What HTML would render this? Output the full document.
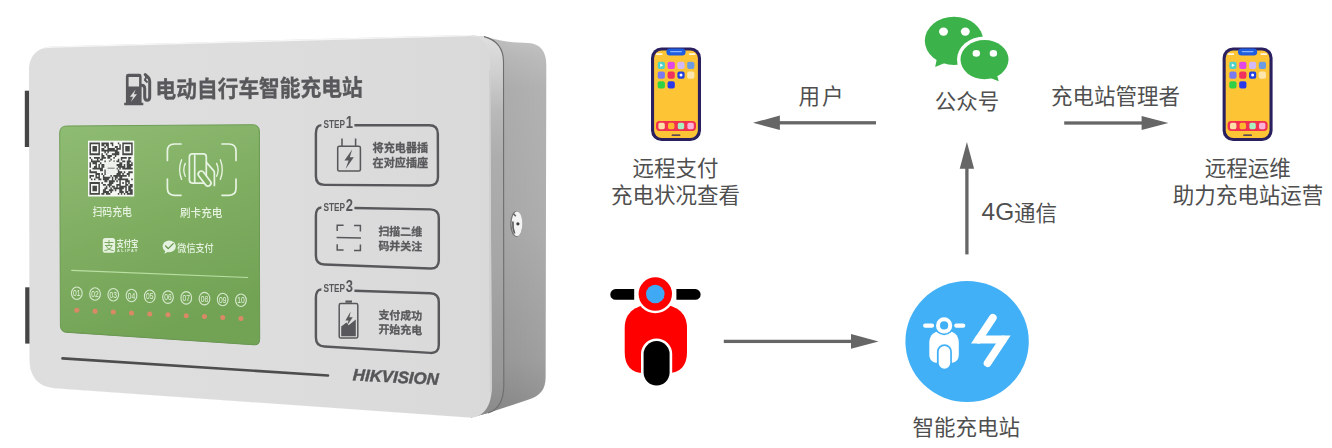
<!DOCTYPE html>
<html lang="zh-CN">
<head>
<meta charset="utf-8">
<title>电动自行车智能充电站</title>
<style>
html,body{margin:0;padding:0;background:#fff}
body{width:1332px;height:448px;overflow:hidden;font-family:"Liberation Sans","Noto Sans CJK SC",sans-serif}
svg{display:block;position:absolute;left:0;top:0}
text{font-family:"Liberation Sans","Noto Sans CJK SC",sans-serif}
.sr{position:absolute;left:0;top:0;width:1332px;height:448px;overflow:hidden;opacity:0;font-size:10px;pointer-events:none}
</style>
</head>
<body>
<svg width="1332" height="448" viewBox="0 0 1332 448">
<defs>
<linearGradient id="faceG" x1="0" y1="0" x2="1" y2="0">
<stop offset="0" stop-color="#dedede"/><stop offset="0.5" stop-color="#dddddd"/><stop offset="1" stop-color="#d9d9d9"/>
</linearGradient>
<linearGradient id="bevelG" x1="0" y1="0" x2="0" y2="1">
<stop offset="0" stop-color="#e0e0e0"/><stop offset="0.1" stop-color="#cfcfcf"/><stop offset="0.2" stop-color="#b9b9b9"/><stop offset="0.32" stop-color="#adadad"/><stop offset="0.6" stop-color="#a6a6a6"/><stop offset="0.9" stop-color="#979797"/><stop offset="1" stop-color="#888888"/>
</linearGradient>
<linearGradient id="sideG" x1="0" y1="0" x2="0" y2="1">
<stop offset="0" stop-color="#c0c0c0"/><stop offset="0.06" stop-color="#b4b4b4"/><stop offset="0.14" stop-color="#aaaaaa"/><stop offset="0.5" stop-color="#a5a5a5"/><stop offset="0.85" stop-color="#959595"/><stop offset="1" stop-color="#828282"/>
</linearGradient>
<linearGradient id="sideH" x1="0" y1="0" x2="1" y2="0">
<stop offset="0" stop-color="#000" stop-opacity="0.06"/><stop offset="0.6" stop-color="#fff" stop-opacity="0.04"/><stop offset="1" stop-color="#fff" stop-opacity="0.10"/>
</linearGradient>
<linearGradient id="greenG" x1="0" y1="0" x2="0.35" y2="1">
<stop offset="0" stop-color="#8fbc73"/><stop offset="0.5" stop-color="#80ae62"/><stop offset="1" stop-color="#72a355"/>
</linearGradient>
<linearGradient id="lockG" x1="0" y1="0" x2="1" y2="1">
<stop offset="0" stop-color="#ffffff"/><stop offset="0.5" stop-color="#e4e4e4"/><stop offset="1" stop-color="#8a8a8a"/>
</linearGradient>
<filter id="soft" x="-5%" y="-5%" width="110%" height="110%"><feGaussianBlur stdDeviation="0.45"/></filter>
<filter id="soft2" x="-5%" y="-5%" width="110%" height="110%"><feGaussianBlur stdDeviation="0.7"/></filter>
<filter id="soft3" x="-20%" y="-20%" width="140%" height="140%"><feGaussianBlur stdDeviation="1.2"/></filter>
<clipPath id="faceClip"><path d="M29,70 C29,55.5 38,46.8 53,46.4 L465,34.9 C482,34.4 490,44 490.1,64 L491.8,386 C492,405 484,418.4 469,417.5 L55,388.2 C38.5,387 29.6,377 29.5,359 Z"/></clipPath>
</defs>
<g id="product">
<rect x="24.8" y="90.7" width="5" height="56.3" fill="#454545"/>
<rect x="25.2" y="287.3" width="5" height="56.3" fill="#454545"/>
<g filter="url(#soft2)">
<path d="M484,36.6 C495,39.5 505,41.8 513,42.3 L528,43 C540,43.6 546.3,51 546.3,65 L545.6,377 C545.6,390 540,396 528,399.8 L488,413 L471,417.6 L466,34.9 Z" fill="url(#sideG)"/>
<path d="M484,36.6 C495,39.5 505,41.8 513,42.3 L528,43 C540,43.6 546.3,51 546.3,65 L545.6,377 C545.6,390 540,396 528,399.8 L488,413 L471,417.6 L466,34.9 Z" fill="url(#sideH)"/>
<path d="M466,34.9 L484,36.6 C497,40 503.5,48 503.5,62 L503.8,385 C503.8,400 499,409.5 488,413 L471,417.6 Z" fill="url(#bevelG)"/>
</g>
<path d="M484,36.6 C497,40 503.5,48 503.5,62 L503.8,385 C503.8,400 499,409.5 488,413" fill="none" stroke="#6e6e6e" stroke-width="1.1" filter="url(#soft)"/>
<path d="M29,70 C29,55.5 38,46.8 53,46.4 L465,34.9 C482,34.4 490,44 490.1,64 L491.8,386 C492,405 484,418.4 469,417.5 L55,388.2 C38.5,387 29.6,377 29.5,359 Z" fill="url(#faceG)"/>
<g clip-path="url(#faceClip)">
<path d="M20,72 C20,50 30,45 53,44.4 L466,32.9 C486,32 496,40 496,58" fill="none" stroke="#f6f6f6" stroke-width="6.5" filter="url(#soft2)"/>
<path d="M492,120 L494,392 C494,410 486,420 471,419.4 L55,390 C40,389 31,384 29,368" fill="none" stroke="#adadad" stroke-width="2.4" filter="url(#soft2)"/>
<path d="M489.5,70 L491.8,392" fill="none" stroke="#cfcfcf" stroke-width="4" filter="url(#soft2)"/>
</g>
<g filter="url(#soft)"><ellipse cx="516.3" cy="224" rx="6.1" ry="12.9" fill="#747474"/><ellipse cx="517" cy="223.8" rx="5.4" ry="12.3" fill="#f3f3f3"/><path d="M512.9,221.5 Q512.4,228 514.6,233.5" stroke="#5c5c5c" stroke-width="1.7" fill="none"/><path d="M513.4,213.6 L515.8,216.2" stroke="#666" stroke-width="1.6" fill="none"/><circle cx="517.9" cy="223.8" r="1.6" fill="#3c3c3c"/></g>
<path d="M62.5,358.4 L328,375.5" stroke="#4e4e4e" stroke-width="2.6" stroke-linecap="round" filter="url(#soft)"/>
<g filter="url(#soft)" fill="#58595b">
<path fill-rule="evenodd" d="M128.4,73.8 H139.2 Q141.6,73.8 141.6,76.2 V102.7 H143.3 V105.3 H124.2 V102.7 H125.9 V76.2 Q125.9,73.8 128.4,73.8 Z M128.6,76.9 V86.6 H139.1 V76.9 Z M135.6,89.6 L129.9,96.8 H133 L131,101.8 L137,94.2 H133.9 Z"/>
<path d="M141.6,85.2 Q144.7,85.2 144.7,88.4 V97 Q144.7,100.3 147.2,100.3 Q149.7,100.3 149.7,97 V81 Q149.7,78.8 148.2,77.4 L145.2,74.6" fill="none" stroke="#58595b" stroke-width="3" stroke-linecap="round" stroke-linejoin="round"/>
<path d="M146.6,76.4 L144.9,80 L147.6,82.4" fill="none" stroke="#58595b" stroke-width="2" stroke-linejoin="round"/>
<text transform="translate(155.57,97.95) rotate(-0.63) scale(1,1.12)" font-size="20.8" font-weight="bold" fill="#58595b" stroke="#58595b" stroke-width="0.3" textLength="207.2" lengthAdjust="spacing">电动自行车智能充电站</text>
</g>
<g filter="url(#soft)">
<path d="M59.7,133 Q59.7,126 66.7,126 L252.5,124.7 Q259.3,124.6 259.3,131.5 L259.6,338.4 Q259.6,344.8 253.2,344.4 L66,331.9 Q60.5,331.5 60.4,326 Z" fill="#5b8a43" transform="translate(0.5,0.8)"/>
<path d="M59.7,133 Q59.7,126 66.7,126 L252.5,124.7 Q259.3,124.6 259.3,131.5 L259.6,338.4 Q259.6,344.8 253.2,344.4 L66,331.9 Q60.5,331.5 60.4,326 Z" fill="url(#greenG)" stroke="#6f9d56" stroke-width="1"/>
</g>
<g filter="url(#soft2)"><rect x="88.0" y="140.7" width="46.2" height="55.8" fill="#f6f8f4"/>
<path d="M89.49,142.50h10.43v1.85h-10.43zM101.41,142.50h7.45v1.85h-7.45zM110.35,142.50h2.98v1.85h-2.98zM117.81,142.50h1.49v1.85h-1.49zM122.28,142.50h10.43v1.85h-10.43zM89.49,144.30h1.49v1.85h-1.49zM98.43,144.30h1.49v1.85h-1.49zM101.41,144.30h2.98v1.85h-2.98zM105.88,144.30h2.98v1.85h-2.98zM111.85,144.30h1.49v1.85h-1.49zM119.30,144.30h1.49v1.85h-1.49zM122.28,144.30h1.49v1.85h-1.49zM131.22,144.30h1.49v1.85h-1.49zM89.49,146.10h1.49v1.85h-1.49zM92.47,146.10h4.47v1.85h-4.47zM98.43,146.10h1.49v1.85h-1.49zM104.39,146.10h1.49v1.85h-1.49zM107.37,146.10h1.49v1.85h-1.49zM114.83,146.10h2.98v1.85h-2.98zM119.30,146.10h1.49v1.85h-1.49zM122.28,146.10h1.49v1.85h-1.49zM125.26,146.10h4.47v1.85h-4.47zM131.22,146.10h1.49v1.85h-1.49zM89.49,147.90h1.49v1.85h-1.49zM92.47,147.90h4.47v1.85h-4.47zM98.43,147.90h1.49v1.85h-1.49zM101.41,147.90h2.98v1.85h-2.98zM107.37,147.90h7.45v1.85h-7.45zM116.32,147.90h4.47v1.85h-4.47zM122.28,147.90h1.49v1.85h-1.49zM125.26,147.90h4.47v1.85h-4.47zM131.22,147.90h1.49v1.85h-1.49zM89.49,149.70h1.49v1.85h-1.49zM92.47,149.70h4.47v1.85h-4.47zM98.43,149.70h1.49v1.85h-1.49zM101.41,149.70h16.39v1.85h-16.39zM122.28,149.70h1.49v1.85h-1.49zM125.26,149.70h4.47v1.85h-4.47zM131.22,149.70h1.49v1.85h-1.49zM89.49,151.50h1.49v1.85h-1.49zM98.43,151.50h1.49v1.85h-1.49zM104.39,151.50h1.49v1.85h-1.49zM107.37,151.50h1.49v1.85h-1.49zM114.83,151.50h4.47v1.85h-4.47zM122.28,151.50h1.49v1.85h-1.49zM131.22,151.50h1.49v1.85h-1.49zM89.49,153.30h10.43v1.85h-10.43zM101.41,153.30h1.49v1.85h-1.49zM105.88,153.30h1.49v1.85h-1.49zM111.85,153.30h7.45v1.85h-7.45zM122.28,153.30h10.43v1.85h-10.43zM101.41,155.10h2.98v1.85h-2.98zM107.37,155.10h4.47v1.85h-4.47zM114.83,155.10h1.49v1.85h-1.49zM89.49,156.90h1.49v1.85h-1.49zM93.96,156.90h5.96v1.85h-5.96zM101.41,156.90h4.47v1.85h-4.47zM107.37,156.90h2.98v1.85h-2.98zM113.34,156.90h1.49v1.85h-1.49zM120.79,156.90h5.96v1.85h-5.96zM128.24,156.90h2.98v1.85h-2.98zM90.98,158.70h1.49v1.85h-1.49zM96.94,158.70h1.49v1.85h-1.49zM99.92,158.70h2.98v1.85h-2.98zM110.35,158.70h1.49v1.85h-1.49zM117.81,158.70h1.49v1.85h-1.49zM120.79,158.70h1.49v1.85h-1.49zM128.24,158.70h1.49v1.85h-1.49zM90.98,160.50h8.94v1.85h-8.94zM104.39,160.50h1.49v1.85h-1.49zM108.86,160.50h1.49v1.85h-1.49zM113.34,160.50h1.49v1.85h-1.49zM116.32,160.50h2.98v1.85h-2.98zM122.28,160.50h2.98v1.85h-2.98zM126.75,160.50h4.47v1.85h-4.47zM89.49,162.30h1.49v1.85h-1.49zM92.47,162.30h4.47v1.85h-4.47zM99.92,162.30h1.49v1.85h-1.49zM119.30,162.30h2.98v1.85h-2.98zM126.75,162.30h2.98v1.85h-2.98zM131.22,162.30h1.49v1.85h-1.49zM89.49,164.10h1.49v1.85h-1.49zM95.45,164.10h1.49v1.85h-1.49zM98.43,164.10h1.49v1.85h-1.49zM101.41,164.10h2.98v1.85h-2.98zM116.32,164.10h5.96v1.85h-5.96zM123.77,164.10h1.49v1.85h-1.49zM126.75,164.10h5.96v1.85h-5.96zM89.49,165.90h1.49v1.85h-1.49zM93.96,165.90h2.98v1.85h-2.98zM98.43,165.90h1.49v1.85h-1.49zM101.41,165.90h2.98v1.85h-2.98zM117.81,165.90h7.45v1.85h-7.45zM126.75,165.90h4.47v1.85h-4.47zM92.47,167.70h10.43v1.85h-10.43zM116.32,167.70h1.49v1.85h-1.49zM119.30,167.70h1.49v1.85h-1.49zM122.28,167.70h10.43v1.85h-10.43zM89.49,169.50h1.49v1.85h-1.49zM99.92,169.50h2.98v1.85h-2.98zM104.39,169.50h1.49v1.85h-1.49zM117.81,169.50h1.49v1.85h-1.49zM89.49,171.30h7.45v1.85h-7.45zM104.39,171.30h1.49v1.85h-1.49zM117.81,171.30h4.47v1.85h-4.47zM123.77,171.30h1.49v1.85h-1.49zM128.24,171.30h4.47v1.85h-4.47zM95.45,173.10h4.47v1.85h-4.47zM101.41,173.10h1.49v1.85h-1.49zM104.39,173.10h1.49v1.85h-1.49zM116.32,173.10h4.47v1.85h-4.47zM122.28,173.10h1.49v1.85h-1.49zM126.75,173.10h2.98v1.85h-2.98zM89.49,174.90h4.47v1.85h-4.47zM95.45,174.90h1.49v1.85h-1.49zM98.43,174.90h1.49v1.85h-1.49zM102.90,174.90h1.49v1.85h-1.49zM110.35,174.90h1.49v1.85h-1.49zM113.34,174.90h13.41v1.85h-13.41zM128.24,174.90h1.49v1.85h-1.49zM89.49,176.70h1.49v1.85h-1.49zM95.45,176.70h4.47v1.85h-4.47zM102.90,176.70h7.45v1.85h-7.45zM111.85,176.70h1.49v1.85h-1.49zM114.83,176.70h2.98v1.85h-2.98zM119.30,176.70h2.98v1.85h-2.98zM90.98,178.50h1.49v1.85h-1.49zM93.96,178.50h1.49v1.85h-1.49zM98.43,178.50h2.98v1.85h-2.98zM102.90,178.50h5.96v1.85h-5.96zM111.85,178.50h1.49v1.85h-1.49zM114.83,178.50h1.49v1.85h-1.49zM117.81,178.50h10.43v1.85h-10.43zM131.22,178.50h1.49v1.85h-1.49zM104.39,180.30h2.98v1.85h-2.98zM108.86,180.30h5.96v1.85h-5.96zM116.32,180.30h1.49v1.85h-1.49zM119.30,180.30h1.49v1.85h-1.49zM125.26,180.30h4.47v1.85h-4.47zM89.49,182.10h10.43v1.85h-10.43zM101.41,182.10h1.49v1.85h-1.49zM108.86,182.10h4.47v1.85h-4.47zM119.30,182.10h1.49v1.85h-1.49zM122.28,182.10h1.49v1.85h-1.49zM125.26,182.10h1.49v1.85h-1.49zM128.24,182.10h1.49v1.85h-1.49zM89.49,183.90h1.49v1.85h-1.49zM98.43,183.90h1.49v1.85h-1.49zM102.90,183.90h2.98v1.85h-2.98zM107.37,183.90h4.47v1.85h-4.47zM116.32,183.90h4.47v1.85h-4.47zM125.26,183.90h2.98v1.85h-2.98zM129.73,183.90h2.98v1.85h-2.98zM89.49,185.70h1.49v1.85h-1.49zM92.47,185.70h4.47v1.85h-4.47zM98.43,185.70h1.49v1.85h-1.49zM105.88,185.70h1.49v1.85h-1.49zM108.86,185.70h1.49v1.85h-1.49zM111.85,185.70h2.98v1.85h-2.98zM116.32,185.70h1.49v1.85h-1.49zM119.30,185.70h7.45v1.85h-7.45zM128.24,185.70h4.47v1.85h-4.47zM89.49,187.50h1.49v1.85h-1.49zM92.47,187.50h4.47v1.85h-4.47zM98.43,187.50h1.49v1.85h-1.49zM104.39,187.50h2.98v1.85h-2.98zM110.35,187.50h1.49v1.85h-1.49zM113.34,187.50h10.43v1.85h-10.43zM125.26,187.50h1.49v1.85h-1.49zM128.24,187.50h2.98v1.85h-2.98zM89.49,189.30h1.49v1.85h-1.49zM92.47,189.30h4.47v1.85h-4.47zM98.43,189.30h1.49v1.85h-1.49zM102.90,189.30h2.98v1.85h-2.98zM108.86,189.30h4.47v1.85h-4.47zM114.83,189.30h1.49v1.85h-1.49zM119.30,189.30h2.98v1.85h-2.98zM125.26,189.30h1.49v1.85h-1.49zM128.24,189.30h4.47v1.85h-4.47zM89.49,191.10h1.49v1.85h-1.49zM98.43,191.10h1.49v1.85h-1.49zM102.90,191.10h5.96v1.85h-5.96zM110.35,191.10h1.49v1.85h-1.49zM119.30,191.10h4.47v1.85h-4.47zM125.26,191.10h2.98v1.85h-2.98zM129.73,191.10h2.98v1.85h-2.98zM89.49,192.90h10.43v1.85h-10.43zM101.41,192.90h2.98v1.85h-2.98zM105.88,192.90h4.47v1.85h-4.47zM117.81,192.90h1.49v1.85h-1.49zM120.79,192.90h1.49v1.85h-1.49zM123.77,192.90h1.49v1.85h-1.49zM126.75,192.90h5.96v1.85h-5.96z" fill="#444744"/>
<rect x="105.8" y="161.6" width="10.6" height="12.8" fill="#eef1ec"/><path d="M107.6,168.2 H114.6" stroke="#6a6d6a" stroke-width="0.9"/></g>
<g filter="url(#soft)">
<text transform="translate(92.40,216.20) scale(1,1.12)" font-size="9.9" font-weight="500" fill="#e6f2e0" textLength="39.6" lengthAdjust="spacing">扫码充电</text>
<text transform="translate(180.00,217.40) scale(1,1.06)" font-size="10.6" font-weight="500" fill="#e6f2e0" textLength="42.4" lengthAdjust="spacing">刷卡充电</text>
<g fill="none" stroke="#e8f4e3" stroke-width="1.7" stroke-linecap="round" stroke-linejoin="round">
<path d="M181,144 H174.4 Q167.4,144 167.4,151 V160.5 M222,144 H229 Q236,144 236,151 V160.5 M181,195.3 H174.4 Q167.4,195.3 167.4,188.3 V179 M222,195.3 H229 Q236,195.3 236,188.3 V179"/>
<rect x="189.4" y="153.9" width="16.9" height="29.2" rx="3"/>
<path d="M194.7,155 V182"/>
<path d="M206.4,162.4 L213.6,170.6 Q214.4,171.6 214.4,173 V185.4"/>
<rect x="-3" y="-8.6" width="6" height="17.2" rx="3" transform="translate(204.6,178.6) rotate(-37)" fill="#82b064"/>
<path d="M185.3,163.4 Q182.3,169.8 185.3,176.3 M181.6,159.8 Q177.7,169.6 181.6,179.4 M216.6,163.4 Q219.6,169.8 216.6,176.3 M220.3,159.8 Q224.2,169.6 220.3,179.4" stroke-width="1.35"/>
</g>
<rect x="102.8" y="238" width="12.3" height="14.8" rx="2.6" fill="#e6f2e0"/>
<text transform="translate(103.70,249.90) scale(1,1.12)" font-size="10.6" fill="#79a85c">支</text>
<text transform="translate(116.60,246.80) scale(1,1.18)" font-size="7.3" font-weight="bold" fill="#e6f2e0" textLength="21.6" lengthAdjust="spacing">支付宝</text>
<text x="117" y="252.3" font-size="3.9" font-weight="bold" fill="#e6f2e0" textLength="20.4" lengthAdjust="spacing">ALIPAY</text>
<ellipse cx="169.2" cy="246.3" rx="6.6" ry="5.9" fill="#e6f2e0"/><path d="M165.6,250 L164.4,253.8 L168.6,251.6 Z" fill="#e6f2e0"/>
<path d="M165.6,246 L168.2,248.6 L173.2,243.6" fill="none" stroke="#5f9044" stroke-width="1.2" stroke-linecap="round" stroke-linejoin="round"/>
<text transform="translate(177.30,251.90) scale(1,1.1)" font-size="9.1" font-weight="500" fill="#e6f2e0" textLength="36.4" lengthAdjust="spacing">微信支付</text>
<path d="M71.7,270.4 L247.6,277.5" stroke="#b9dfa3" stroke-width="1.15" stroke-linecap="round"/>
<ellipse cx="76.80" cy="293.20" rx="5.35" ry="6.25" fill="none" stroke="#d6e9ce" stroke-width="1.1"/>
<text transform="translate(76.80,296.30) scale(1,1.18)" font-size="7.4" text-anchor="middle" fill="#e6f2e0" textLength="7.4" lengthAdjust="spacingAndGlyphs">01</text>
<ellipse cx="95.04" cy="293.98" rx="5.35" ry="6.25" fill="none" stroke="#d6e9ce" stroke-width="1.1"/>
<text transform="translate(95.04,297.08) scale(1,1.18)" font-size="7.4" text-anchor="middle" fill="#e6f2e0" textLength="7.4" lengthAdjust="spacingAndGlyphs">02</text>
<ellipse cx="113.28" cy="294.76" rx="5.35" ry="6.25" fill="none" stroke="#d6e9ce" stroke-width="1.1"/>
<text transform="translate(113.28,297.86) scale(1,1.18)" font-size="7.4" text-anchor="middle" fill="#e6f2e0" textLength="7.4" lengthAdjust="spacingAndGlyphs">03</text>
<ellipse cx="131.52" cy="295.54" rx="5.35" ry="6.25" fill="none" stroke="#d6e9ce" stroke-width="1.1"/>
<text transform="translate(131.52,298.64) scale(1,1.18)" font-size="7.4" text-anchor="middle" fill="#e6f2e0" textLength="7.4" lengthAdjust="spacingAndGlyphs">04</text>
<ellipse cx="149.76" cy="296.32" rx="5.35" ry="6.25" fill="none" stroke="#d6e9ce" stroke-width="1.1"/>
<text transform="translate(149.76,299.42) scale(1,1.18)" font-size="7.4" text-anchor="middle" fill="#e6f2e0" textLength="7.4" lengthAdjust="spacingAndGlyphs">05</text>
<ellipse cx="168.00" cy="297.10" rx="5.35" ry="6.25" fill="none" stroke="#d6e9ce" stroke-width="1.1"/>
<text transform="translate(168.00,300.20) scale(1,1.18)" font-size="7.4" text-anchor="middle" fill="#e6f2e0" textLength="7.4" lengthAdjust="spacingAndGlyphs">06</text>
<ellipse cx="186.24" cy="297.88" rx="5.35" ry="6.25" fill="none" stroke="#d6e9ce" stroke-width="1.1"/>
<text transform="translate(186.24,300.98) scale(1,1.18)" font-size="7.4" text-anchor="middle" fill="#e6f2e0" textLength="7.4" lengthAdjust="spacingAndGlyphs">07</text>
<ellipse cx="204.48" cy="298.66" rx="5.35" ry="6.25" fill="none" stroke="#d6e9ce" stroke-width="1.1"/>
<text transform="translate(204.48,301.76) scale(1,1.18)" font-size="7.4" text-anchor="middle" fill="#e6f2e0" textLength="7.4" lengthAdjust="spacingAndGlyphs">08</text>
<ellipse cx="222.72" cy="299.44" rx="5.35" ry="6.25" fill="none" stroke="#d6e9ce" stroke-width="1.1"/>
<text transform="translate(222.72,302.54) scale(1,1.18)" font-size="7.4" text-anchor="middle" fill="#e6f2e0" textLength="7.4" lengthAdjust="spacingAndGlyphs">09</text>
<ellipse cx="240.96" cy="300.22" rx="5.35" ry="6.25" fill="none" stroke="#d6e9ce" stroke-width="1.1"/>
<text transform="translate(240.96,303.32) scale(1,1.18)" font-size="7.4" text-anchor="middle" fill="#e6f2e0" textLength="7.4" lengthAdjust="spacingAndGlyphs">10</text>
</g>
<g filter="url(#soft2)">
<circle cx="76.80" cy="310.30" r="2.5" fill="#da8965"/>
<circle cx="95.04" cy="311.20" r="2.5" fill="#da8965"/>
<circle cx="113.28" cy="312.10" r="2.5" fill="#da8965"/>
<circle cx="131.52" cy="313.00" r="2.5" fill="#da8965"/>
<circle cx="149.76" cy="313.90" r="2.5" fill="#da8965"/>
<circle cx="168.00" cy="314.80" r="2.5" fill="#da8965"/>
<circle cx="186.24" cy="315.70" r="2.5" fill="#da8965"/>
<circle cx="204.48" cy="316.60" r="2.5" fill="#da8965"/>
<circle cx="222.72" cy="317.50" r="2.5" fill="#da8965"/>
<circle cx="240.96" cy="318.40" r="2.5" fill="#da8965"/>
</g>
<g filter="url(#soft)">
<path d="M354.40,125.16 L429.30,125.29 Q437.80,125.30 437.83,133.80 L437.97,177.10 Q438.00,185.60 429.50,185.54 L324.40,184.86 Q315.90,184.80 315.90,176.30 L315.90,133.60 Q315.90,125.10 321.40,125.11" fill="none" stroke="#58595b" stroke-width="2.45" stroke-linecap="butt"/>
<text transform="translate(323.5,128.40) scale(1,1.34)" font-size="8.3" font-weight="bold" fill="#58595b" textLength="21.6" lengthAdjust="spacingAndGlyphs">STEP</text>
<text transform="translate(345.7,128.30) scale(1,1.27)" font-size="13" font-weight="bold" fill="#58595b">1</text>
<path d="M354.40,208.06 L430.30,209.35 Q438.80,209.50 438.80,218.00 L438.80,260.30 Q438.80,268.80 430.31,268.48 L324.39,264.52 Q315.90,264.20 315.90,255.70 L315.90,215.90 Q315.90,207.40 321.40,207.49" fill="none" stroke="#58595b" stroke-width="2.45" stroke-linecap="butt"/>
<text transform="translate(323.5,210.90) scale(1,1.34)" font-size="8.3" font-weight="bold" fill="#58595b" textLength="21.6" lengthAdjust="spacingAndGlyphs">STEP</text>
<text transform="translate(345.7,210.80) scale(1,1.27)" font-size="13" font-weight="bold" fill="#58595b">2</text>
<path d="M354.40,290.72 L430.30,293.31 Q438.80,293.60 438.80,302.10 L438.80,344.90 Q438.80,353.40 430.32,352.89 L324.38,346.51 Q315.90,346.00 315.90,337.50 L315.90,297.90 Q315.90,289.40 321.40,289.59" fill="none" stroke="#58595b" stroke-width="2.45" stroke-linecap="butt"/>
<text transform="translate(323.5,291.80) scale(1,1.34)" font-size="8.3" font-weight="bold" fill="#58595b" textLength="21.6" lengthAdjust="spacingAndGlyphs">STEP</text>
<text transform="translate(345.7,291.70) scale(1,1.27)" font-size="13" font-weight="bold" fill="#58595b">3</text>
<g fill="none" stroke="#58595b" stroke-width="1.55" stroke-linejoin="round">
<rect x="337.7" y="146.3" width="22.7" height="24.7" rx="1.6"/><path d="M342,138.5 V146.3 M355.6,138.5 V146.3"/>
</g>
<path d="M352.2,149.6 L344.4,160.6 H348.6 L345.6,169 L353.8,157.2 H349.8 Z" fill="#58595b"/>
<path d="M337.2,231 V225.2 H343.6 M354,225.5 H360.4 V231.4 M337.2,244.2 V250 H343.6 M354,250.6 H360.4 V244.6 M336.6,237.4 L361,238" fill="none" stroke="#58595b" stroke-width="1.5"/>
<rect x="339.2" y="303.6" width="18.6" height="34.4" rx="1.6" fill="none" stroke="#58595b" stroke-width="1.5"/>
<rect x="345.4" y="300.5" width="6.6" height="2.2" fill="#58595b"/>
<path d="M341.2,336.2 V326.6 L346.4,322.6 L348.6,325.2 L355.8,319.6 V336.2 Z" fill="#58595b"/>
<path d="M350.6,311.4 L345.4,320.4 H348.6 L346.6,326.2 L352.8,317.2 H349.4 Z" fill="#58595b"/>
<text transform="translate(372.60,152.30) scale(1,1.03)" font-size="11.1" font-weight="bold" fill="#58595b" stroke="#58595b" stroke-width="0.27" textLength="55.5" lengthAdjust="spacing">将充电器插</text>
<text transform="translate(372.60,166.60) scale(1,1.03)" font-size="11.1" font-weight="bold" fill="#58595b" stroke="#58595b" stroke-width="0.27" textLength="55.5" lengthAdjust="spacing">在对应插座</text>
<g transform="translate(378.4,0) skewY(0.9) translate(-378.4,0)">
<text transform="translate(378.40,235.30) scale(1,1.03)" font-size="10.95" font-weight="bold" fill="#58595b" stroke="#58595b" stroke-width="0.26" textLength="43.8" lengthAdjust="spacing">扫描二维</text>
<text transform="translate(378.40,249.90) scale(1,1.03)" font-size="10.95" font-weight="bold" fill="#58595b" stroke="#58595b" stroke-width="0.26" textLength="43.8" lengthAdjust="spacing">码并关注</text>
</g>
<g transform="translate(378.4,0) skewY(1.5) translate(-378.4,0)">
<text transform="translate(378.40,318.90) scale(1,1.03)" font-size="10.95" font-weight="bold" fill="#58595b" stroke="#58595b" stroke-width="0.26" textLength="43.8" lengthAdjust="spacing">支付成功</text>
<text transform="translate(378.40,333.30) scale(1,1.03)" font-size="10.95" font-weight="bold" fill="#58595b" stroke="#58595b" stroke-width="0.26" textLength="43.8" lengthAdjust="spacing">开始充电</text>
</g>
<text transform="translate(352.6,380.2) rotate(3.2)" font-size="16.6" font-weight="bold" font-style="italic" fill="#555658" stroke="#555658" stroke-width="0.45" textLength="86" lengthAdjust="spacingAndGlyphs">HIKVISION</text>
</g>
</g>
<g id="diagram">
<g transform="translate(0.00,0)"><rect x="651" y="47.4" width="50" height="93.7" rx="10.5" fill="#2a2060"/><rect x="654.1" y="50.6" width="43.8" height="87.3" rx="7.6" fill="#fdc536"/><rect x="666.4" y="48.4" width="19.2" height="7" rx="3.5" fill="#1e5ce0"/><path d="M670.6,51.6 H681.4" stroke="#86b6ff" stroke-width="1.1" stroke-linecap="round"/><rect x="655.8" y="53.2" width="6.8" height="1.8" rx="0.9" fill="#fff7e0"/><rect x="688.8" y="53.2" width="6.8" height="1.8" rx="0.9" fill="#fff7e0"/><rect x="657.70" y="61.70" width="7.2" height="7.2" rx="1.9" fill="#4fd0c6"/><rect x="667.60" y="61.70" width="7.2" height="7.2" rx="1.9" fill="#e247e6"/><rect x="677.40" y="61.70" width="7.2" height="7.2" rx="1.9" fill="#d3b9f7"/><rect x="687.20" y="61.70" width="7.2" height="7.2" rx="1.9" fill="#6b9be0"/><rect x="657.70" y="71.50" width="7.2" height="7.2" rx="1.9" fill="#7a7af0"/><rect x="667.60" y="71.50" width="7.2" height="7.2" rx="1.9" fill="#f0315f"/><rect x="677.40" y="71.50" width="7.2" height="7.2" rx="1.9" fill="#2341e0"/><rect x="687.20" y="71.50" width="7.2" height="7.2" rx="1.9" fill="#fde6ae"/><rect x="657.70" y="81.30" width="7.2" height="7.2" rx="1.9" fill="#2fd045"/><rect x="667.60" y="81.30" width="7.2" height="7.2" rx="1.9" fill="#2a38ea"/><path d="M660.2,63.6 L663.2,65.3 L660.2,67 Z" fill="#fff"/><circle cx="681" cy="75.1" r="1.5" fill="#fff"/><rect x="656" y="121" width="40" height="9.9" rx="3.6" fill="#f2304f"/><rect x="658.40" y="122.7" width="6.4" height="6.5" rx="1.7" fill="#fde0a8"/><rect x="668.00" y="122.7" width="6.4" height="6.5" rx="1.7" fill="#fdb830"/><rect x="677.80" y="122.7" width="6.4" height="6.5" rx="1.7" fill="#a8f0c0"/><rect x="687.40" y="122.7" width="6.4" height="6.5" rx="1.7" fill="#fdb0d8"/><path d="M672.2,135.2 H679.8" stroke="#2a2060" stroke-width="1.2" stroke-linecap="round"/></g>
<g transform="translate(571.60,0)"><rect x="651" y="47.4" width="50" height="93.7" rx="10.5" fill="#2a2060"/><rect x="654.1" y="50.6" width="43.8" height="87.3" rx="7.6" fill="#fdc536"/><rect x="666.4" y="48.4" width="19.2" height="7" rx="3.5" fill="#1e5ce0"/><path d="M670.6,51.6 H681.4" stroke="#86b6ff" stroke-width="1.1" stroke-linecap="round"/><rect x="655.8" y="53.2" width="6.8" height="1.8" rx="0.9" fill="#fff7e0"/><rect x="688.8" y="53.2" width="6.8" height="1.8" rx="0.9" fill="#fff7e0"/><rect x="657.70" y="61.70" width="7.2" height="7.2" rx="1.9" fill="#4fd0c6"/><rect x="667.60" y="61.70" width="7.2" height="7.2" rx="1.9" fill="#e247e6"/><rect x="677.40" y="61.70" width="7.2" height="7.2" rx="1.9" fill="#d3b9f7"/><rect x="687.20" y="61.70" width="7.2" height="7.2" rx="1.9" fill="#6b9be0"/><rect x="657.70" y="71.50" width="7.2" height="7.2" rx="1.9" fill="#7a7af0"/><rect x="667.60" y="71.50" width="7.2" height="7.2" rx="1.9" fill="#f0315f"/><rect x="677.40" y="71.50" width="7.2" height="7.2" rx="1.9" fill="#2341e0"/><rect x="687.20" y="71.50" width="7.2" height="7.2" rx="1.9" fill="#fde6ae"/><rect x="657.70" y="81.30" width="7.2" height="7.2" rx="1.9" fill="#2fd045"/><rect x="667.60" y="81.30" width="7.2" height="7.2" rx="1.9" fill="#2a38ea"/><path d="M660.2,63.6 L663.2,65.3 L660.2,67 Z" fill="#fff"/><circle cx="681" cy="75.1" r="1.5" fill="#fff"/><rect x="656" y="121" width="40" height="9.9" rx="3.6" fill="#f2304f"/><rect x="658.40" y="122.7" width="6.4" height="6.5" rx="1.7" fill="#fde0a8"/><rect x="668.00" y="122.7" width="6.4" height="6.5" rx="1.7" fill="#fdb830"/><rect x="677.80" y="122.7" width="6.4" height="6.5" rx="1.7" fill="#a8f0c0"/><rect x="687.40" y="122.7" width="6.4" height="6.5" rx="1.7" fill="#fdb0d8"/><path d="M672.2,135.2 H679.8" stroke="#2a2060" stroke-width="1.2" stroke-linecap="round"/></g>
<g>
<ellipse cx="954" cy="40.8" rx="29.2" ry="24.1" fill="#3cb34a"/>
<path d="M937,58 L935.2,67 L946,62.5 Z" fill="#3cb34a"/>
<ellipse cx="943.5" cy="31.6" rx="4.5" ry="4.1" fill="#fff"/><ellipse cx="965.3" cy="31.6" rx="4.5" ry="4.1" fill="#fff"/>
<ellipse cx="984.5" cy="59.6" rx="27.5" ry="23.1" fill="#fff"/>
<ellipse cx="984.5" cy="59.6" rx="24" ry="19.6" fill="#3cb34a"/>
<path d="M989,77.5 L998.8,81.2 L996.6,74 Z" fill="#3cb34a"/>
<ellipse cx="976.3" cy="53.4" rx="3.7" ry="3.3" fill="#fff"/><ellipse cx="993.4" cy="53.4" rx="3.7" ry="3.3" fill="#fff"/>
</g>
<g fill="#666666" stroke="none">
<rect x="779" y="121.15" width="97" height="3.3"/><path d="M753,122.8 L779.9,115.6 V130 Z"/>
<rect x="1064.2" y="121.35" width="78" height="3.3"/><path d="M1168.4,123 L1141.6,115.9 V130.1 Z"/>
<rect x="965.25" y="168" width="3.3" height="86.4"/><path d="M966.9,142 L959.7,168.8 H974.1 Z"/>
<rect x="723.8" y="339.75" width="128" height="3.3"/><path d="M878.6,341.4 L851,334.1 V348.7 Z"/>
</g>
<text x="798.53" y="103.5" font-size="21.5" fill="#4f4f4f" textLength="44.9" lengthAdjust="spacing">用户</text>
<text x="934.85" y="108.6" font-size="21.5" fill="#4f4f4f" textLength="64.5" lengthAdjust="spacing">公众号</text>
<text x="1050.9" y="103.7" font-size="21.5" fill="#4f4f4f" textLength="129" lengthAdjust="spacing">充电站管理者</text>
<text x="632.4" y="176.4" font-size="21.5" fill="#4f4f4f" textLength="86" lengthAdjust="spacing">远程支付</text>
<text x="610.9" y="202.6" font-size="21.5" fill="#4f4f4f" textLength="129" lengthAdjust="spacing">充电状况查看</text>
<text x="1204.8" y="176.4" font-size="21.5" fill="#4f4f4f" textLength="86" lengthAdjust="spacing">远程运维</text>
<text x="1172.75" y="202.6" font-size="21.5" fill="#4f4f4f" textLength="150.5" lengthAdjust="spacing">助力充电站运营</text>
<text x="912.55" y="434.9" font-size="21.5" fill="#4f4f4f" textLength="107.5" lengthAdjust="spacing">智能充电站</text>
<text x="981.6" y="219.9" font-size="23.4" fill="#4f4f4f" textLength="32.6" lengthAdjust="spacingAndGlyphs">4G</text>
<text x="1014" y="221" font-size="21.5" fill="#4f4f4f" textLength="43" lengthAdjust="spacing">通信</text>
<g>
<path d="M615.6,289.1 H634.2 V299.8 H615.6 A5.35,5.35 0 0 1 615.6,289.1 Z M676.4,289.1 H695.3 A5.35,5.35 0 0 1 695.3,299.8 H676.4 Z" fill="#000"/>
<path d="M624.7,328 C624.7,312 636,304 655.8,304 C675.6,304 687,312 687,328 V352 C687,366 680,373 668,373 H643.5 C631.5,373 624.7,366 624.7,352 Z" fill="#ff0000"/>
<circle cx="655.3" cy="294" r="19.2" fill="#fff"/><circle cx="655.3" cy="294" r="16.7" fill="#ff0000"/><circle cx="655.3" cy="294" r="9.3" fill="#3fa9f5"/>
<rect x="641" y="338.5" width="31.2" height="49.5" rx="15.6" fill="#fff"/>
<rect x="643.6" y="341.1" width="26" height="44.4" rx="13" fill="#000"/>
</g>
<g>
<ellipse cx="967.1" cy="341.5" rx="61.7" ry="60.5" fill="#41b0f6"/>
<g fill="#fff">
<rect x="923.1" y="323.4" width="11" height="4.4" rx="2.2"/><rect x="954.2" y="323.4" width="11.1" height="4.4" rx="2.2"/>
<path d="M929.3,342.6 C929.3,334.6 934.8,330.4 944.1,330.4 C953.4,330.4 958.8,334.6 958.8,342.6 V354.4 C958.8,360.2 955.4,362.8 950,362.8 H938.2 C932.8,362.8 929.3,360.2 929.3,354.4 Z"/>
<circle cx="944.1" cy="325.4" r="9.8" fill="#41b0f6"/><circle cx="944.1" cy="325.4" r="8.1"/><circle cx="944.1" cy="325.4" r="4.1" fill="#41b0f6"/>
<rect x="936.9" y="344.2" width="15.0" height="26.4" rx="7.5" fill="#41b0f6"/>
<rect x="938.7" y="346" width="11.5" height="22.8" rx="5.75"/>
</g>
<path d="M992.8,317.8 L978.4,339.55 M1003.2,339.55 L987.6,363.1" fill="none" stroke="#fff" stroke-width="7.8" stroke-linecap="round"/>
<path d="M971,343.6 L976.4,335.5 H1010.6 L1005.2,343.6 Z" fill="#fff"/>
</g>
</g>
</svg>
</body>
</html>
